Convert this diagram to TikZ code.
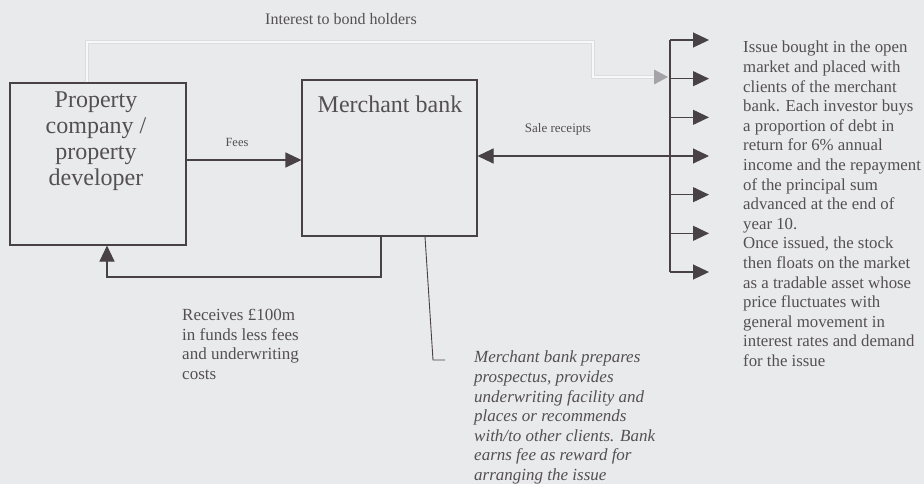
\documentclass[tikz,border=0pt]{standalone}
\usepackage{fontspec}
\setmainfont{Liberation Serif}
\usetikzlibrary{arrows.meta,calc}

\definecolor{paper}{RGB}{233,234,236}
\definecolor{ink}{RGB}{72,66,70}
\definecolor{inktext}{RGB}{84,79,83}
\definecolor{faintink}{RGB}{165,163,167}
\definecolor{faintedge}{RGB}{220,221,223}

\tikzset{
  box/.style={draw=ink, line width=1.05pt, inner sep=0pt},
  link/.style={draw=ink, line width=1.05pt},
  tip/.style={-{Triangle[length=16pt,width=15pt]}},
  bigtext/.style={text=inktext, inner sep=0pt, align=center,
    font=\fontsize{24}{26}\selectfont},
  bodytext/.style={text=inktext, inner sep=0pt, align=left,
    font=\fontsize{17}{19.7}\selectfont},
  smalltext/.style={text=inktext, inner sep=0pt,
    font=\fontsize{12.5}{14}\selectfont},
  faintlink/.style={draw=faintedge, line width=0.6pt, double=white!65!paper,
    double distance=2pt},
}

\begin{document}
\begin{tikzpicture}[x=1pt,y=-1pt]
  % page
  \fill[paper] (0,0) rectangle (924,484);
  \useasboundingbox (0,0) rectangle (924,484);

  % the two parties
  \node[box, minimum width=176pt, minimum height=162pt] (prop) at (98,164) {};
  \node[box, minimum width=175pt, minimum height=156pt] (mb) at (389.5,158) {};
  \node[bigtext, anchor=north] (proptext) at (96,92)
    {Property\\company /\\property\\developer};
  \node[bigtext, anchor=north] (mbtext) at (390,96) {Merchant bank};

  % investors: distribution bar with seven arrows
  \coordinate (bartop) at (670,40);
  \coordinate (barbot) at (670,272);
  \draw[link] (bartop) -- (barbot);
  \foreach \i in {0,...,6} {
    \coordinate (bar\i) at (670,{40+38.667*\i});
    \coordinate (inv\i) at (709,{40+38.667*\i});
    \draw[link,tip] (bar\i) -- (inv\i);
  }

  % fees to the bank
  \draw[link,tip] ([yshift=4pt]prop.east) -- ([yshift=4pt]prop.east -| mb.west);
  \node[smalltext] (fees) at (237,142) {Fees};

  % sale receipts from the investors
  \draw[link,tip] (bar3) -- (bar3 -| mb.east);
  \node[smalltext, font=\fontsize{13}{15}\selectfont] (sale) at (558,129) {Sale receipts};

  % funds passed back to the developer
  \coordinate (rtA) at (381,277);
  \coordinate (rtB) at (107,277);
  \draw[link,tip] (mb.south -| rtA) -- (rtA) -- (rtB) -- (prop.south -| rtB);
  \node[bodytext, anchor=north west] (receives) at (182,309)
    {Receives £100m\\in funds less fees\\and underwriting\\costs};

  % interest paid to bond holders
  \coordinate (intA) at (87,42);
  \coordinate (intB) at (593,42);
  \coordinate (intC) at (593,77);
  \coordinate (intD) at (668,77);
  \draw[faintlink] (prop.north -| intA) -- (intA) -- (intB) -- (intC) -- ([xshift=-12pt]intD);
  \fill[faintink] (intD) -- ++(-14,-7.5) -- ++(0,15) -- cycle;
  \node[text=inktext, inner sep=0pt, font=\fontsize{16}{18}\selectfont, anchor=north]
    (interest) at (341,13) {Interest to bond holders};

  % note on the bank's role
  \coordinate (noteA) at (433,360);
  \coordinate (noteB) at (445,360);
  \draw[ink, line width=0.9pt] (mb.south -| 425,0) -- (noteA) -- (noteB);
  \node[bodytext, anchor=north west, font=\fontsize{17}{19.6}\selectfont\itshape]
    (note) at (474,351)
    {Merchant bank prepares\\prospectus, provides\\underwriting facility and\\places or recommends\\with/to other clients. Bank\\earns fee as reward for\\arranging the issue};

  % description of the issue
  \node[bodytext, anchor=north west, font=\fontsize{16.8}{19.6}\selectfont]
    (issue) at (743,41)
    {Issue bought in the open\\market and placed with\\clients of the merchant\\bank. Each investor buys\\a proportion of debt in\\return for 6\% annual\\income and the repayment\\of the principal sum\\advanced at the end of\\year 10.\\Once issued, the stock\\then floats on the market\\as a tradable asset whose\\price fluctuates with\\general movement in\\interest rates and demand\\for the issue};
\end{tikzpicture}
\end{document}
